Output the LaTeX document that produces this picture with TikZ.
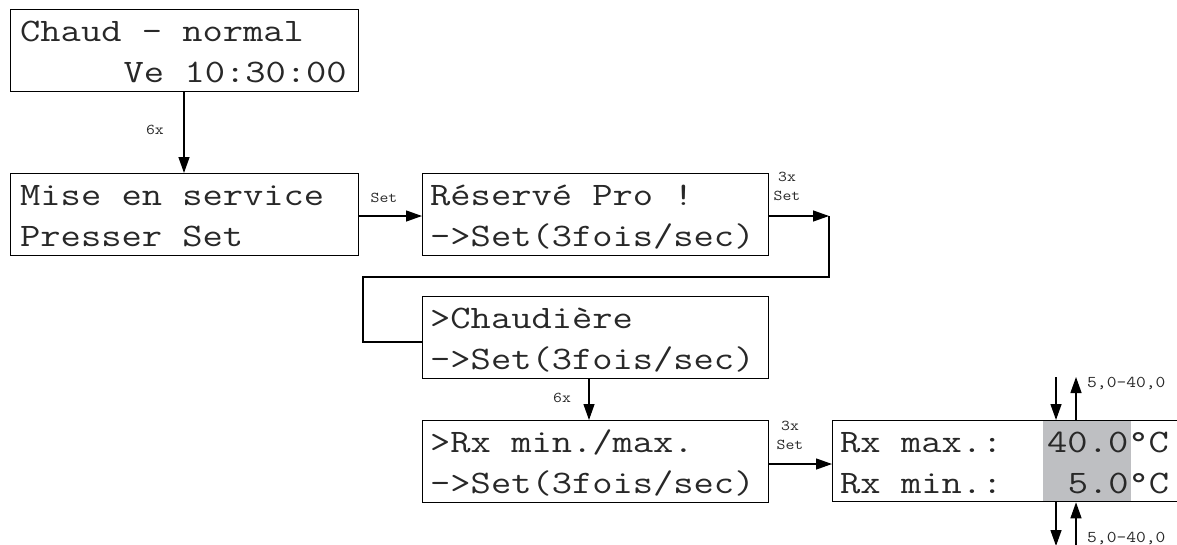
\documentclass[tikz,border=0pt]{standalone}
\usepackage{fontspec}
\newfontfamily\lcdfont[FakeStretch=1.2]{Latin Modern Mono}
\newfontfamily\smallfont[FakeStretch=1.15]{Latin Modern Mono}
\usetikzlibrary{arrows.meta}
\definecolor{lcdgray}{RGB}{190,191,194}
\definecolor{txt}{RGB}{40,40,40}
\tikzset{
  lcdbox/.style={draw, line width=1.3pt, anchor=north west, inner sep=0pt, minimum width=#1, minimum height=82pt},
  lcdbox/.default=346pt,
  lcdtext/.style={anchor=base west, inner sep=0pt, text=txt, font=\lcdfont\fontsize{32.8}{40}\selectfont},
  lbl/.style={inner sep=0pt, text=txt, font=\smallfont\fontsize{15}{16}\selectfont},
  lblr/.style={anchor=west, inner sep=0pt, text=txt, font=\smallfont\fontsize{16.5}{17}\selectfont},
  conn/.style={line width=1.3pt},
  arr/.style={line width=1.3pt, -{Triangle[length=16pt,width=11pt]}},
}
\begin{document}
\begin{tikzpicture}[x=1pt,y=-1pt]
\useasboundingbox (0,0) rectangle (1177,544);
\clip (0,0) rectangle (1177,544);
% grey highlight
\fill[lcdgray] (1043,420) rectangle (1131,501);
% boxes
\node[lcdbox=348pt] (b1) at (10,9) {};
\node[lcdbox=348pt] (b2) at (10,173) {};
\node[lcdbox] (b3) at (422,173) {};
\node[lcdbox] (b4) at (422,296) {};
\node[lcdbox] (b5) at (422,420) {};
\node[lcdbox=400pt, minimum height=81pt] (b6) at (832,420) {};
% texts
\node[lcdtext] (t1a) at (20,41) {Chaud - normal};
\node[lcdtext] (t1b) at (123.5,82) {Ve 10:30:00};
\node[lcdtext] (t2a) at (20,205) {Mise en service};
\node[lcdtext] (t2b) at (20,246) {Presser Set};
\node[lcdtext] (t3a) at (430,205) {Réservé Pro !};
\node[lcdtext] (t3b) at (430,246) {->Set(3fois/sec)};
\node[lcdtext] (t4a) at (430,328) {>Chaudière};
\node[lcdtext] (t4b) at (430,369) {->Set(3fois/sec)};
\node[lcdtext] (t5a) at (430,452) {>Rx min./max.};
\node[lcdtext] (t5b) at (430,493) {->Set(3fois/sec)};
\node[lcdtext] (t6a) at (840,452) {Rx max.:};
\node[lcdtext] (t6b) at (840,493) {Rx min.:};
\node[lcdtext] (t6c) at (1047,452) {40.0°C};
\node[lcdtext] (t6d) at (1067.7,493) {5.0°C};
% connectors
\draw[arr] (b1.south -| 184,0) -- (b2.north -| 184,0);
\node[lbl] (l1) at (155,130) {6x};
\draw[arr] (b2.east |- 0,216) -- (b3.west |- 0,216);
\node[lbl] (l2) at (384,198) {Set};
\coordinate (c1) at (829,216);
\coordinate (c2) at (829,277);
\coordinate (c3) at (363,277);
\coordinate (c4) at (363,342);
\draw[arr] (b3.east |- c1) -- (c1);
\draw[conn] (c1) -- (c2) -- (c3) -- (c4) -- (b4.west |- c4);
\node[lbl] (l3a) at (787,177) {3x};
\node[lbl] (l3b) at (787,196) {Set};
\draw[arr] (b4.south -| 589,0) -- (b5.north -| 589,0);
\node[lbl] (l4) at (562,398) {6x};
\draw[arr] (b5.east |- 0,464) -- (b6.west |- 0,464);
\node[lbl] (l5a) at (790,426) {3x};
\node[lbl] (l5b) at (790,445) {Set};
% value arrows
\coordinate (d1) at (1056,377);
\coordinate (u1) at (1076,377);
\coordinate (d2) at (1056,546);
\coordinate (u2) at (1076,546);
\draw[arr] (d1) -- (d1 |- b6.north);
\draw[arr] (u1 |- b6.north) -- (u1);
\draw[arr] (d2 |- b6.south) -- (d2);
\draw[arr] (u2) -- (u2 |- b6.south);
\node[lblr] (r1) at (1087,383) {5,0-40,0};
\node[lblr] (r2) at (1087,538) {5,0-40,0};
\end{tikzpicture}
\end{document}
